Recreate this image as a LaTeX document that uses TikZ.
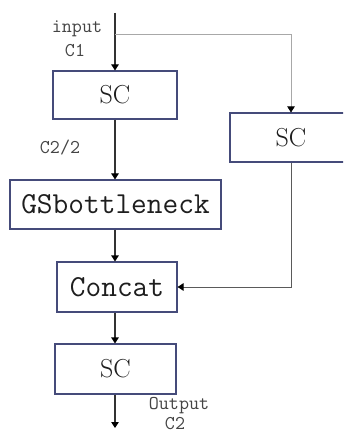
\documentclass[tikz,border=0pt]{standalone}
\usetikzlibrary{arrows.meta}
\definecolor{boxc}{HTML}{454B7A}
\definecolor{txtc}{HTML}{1E1E1E}
\definecolor{lblc}{HTML}{444444}
\definecolor{branchc}{HTML}{A8A8A8}
\definecolor{linec}{HTML}{5A5A5A}
\begin{document}
\begin{tikzpicture}[x=1pt,y=-1pt,
  blk/.style={draw=boxc, line width=1.1pt, fill=white, inner sep=0pt, text=txtc},
  monotxt/.style={font=\fontsize{30.5}{32}\selectfont\ttfamily},
  serftxt/.style={font=\fontsize{26}{28}\selectfont},
  lbl/.style={font=\fontsize{19.5}{21}\selectfont\ttfamily, text=lblc, inner sep=0pt},
  tip/.style={-{Triangle[width=7.5pt,length=6pt,color=black]}},
  arr/.style={tip, line width=1.1pt, draw=black!80},
]
\useasboundingbox (0,0) rectangle (343,435);
\clip (0,0) rectangle (343,435);

% blocks
\node[blk, serftxt, minimum width=124pt, minimum height=48pt] (sc1) at (115,95) {SC};
\node[blk, serftxt, minimum width=122pt, minimum height=49pt] (scr) at (291,137.5) {SC};
\node[blk, monotxt, minimum width=211pt, minimum height=49pt] (gsb) at (115.5,204.5) {GSbottleneck};
\node[blk, monotxt, minimum width=120pt, minimum height=50pt] (cat) at (117,287) {Concat};
\node[blk, serftxt, minimum width=121pt, minimum height=50pt] (sc3) at (115.5,369) {SC};

% free ends and bends
\coordinate (in) at (115,13);
\coordinate (split) at (115,34);
\coordinate (out) at (115,428);

% main path
\draw[arr] (in) -- (in |- sc1.north);
\draw[arr] (sc1.south) -- (sc1.south |- gsb.north);
\draw[arr] (sc1.south |- gsb.south) -- (sc1.south |- cat.north);
\draw[arr] (sc1.south |- cat.south) -- (sc1.south |- sc3.north);
\draw[arr] (sc1.south |- sc3.south) -- (out);

% side branch
\draw[tip, line width=0.7pt, draw=branchc] (split) -| (scr.north);
\draw[tip, line width=1pt, draw=linec] (scr.south) |- (cat.east);

% labels
\node[lbl] (lin) at (77,29) {input};
\node[lbl] (lc1) at (75,51) {C1};
\node[lbl] (lmid) at (60,148) {C2/2};
\node[lbl] (lout) at (179,406) {Output};
\node[lbl] (lc2) at (175,424) {C2};
\end{tikzpicture}
\end{document}
